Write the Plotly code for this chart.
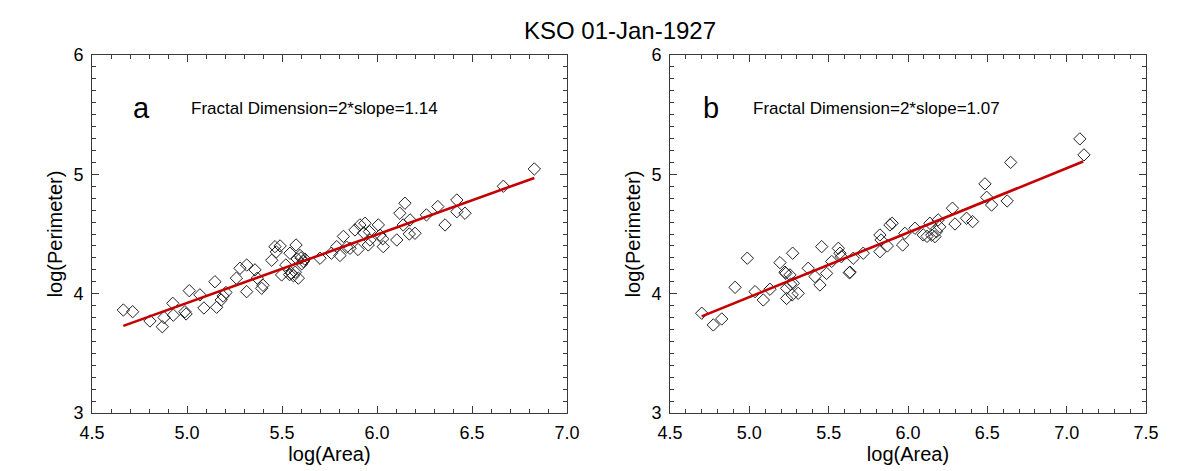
import plotly.graph_objects as go

# ---------------- data ----------------
a_log_area = [4.665, 4.714, 4.805, 4.870, 4.879, 4.925, 4.928, 4.989, 4.995, 5.012,
              5.068, 5.089, 5.147, 5.156, 5.180, 5.205, 5.190, 5.260, 5.279, 5.314,
              5.314, 5.358, 5.370, 5.393, 5.400, 5.446, 5.463, 5.490, 5.470, 5.498,
              5.520, 5.542, 5.574, 5.550, 5.560, 5.586, 5.595, 5.612, 5.580, 5.540,
              5.570, 5.600, 5.620, 5.604, 5.700, 5.760, 5.788, 5.805, 5.823, 5.840,
              5.858, 5.884, 5.900, 5.910, 5.937, 5.930, 5.960, 5.963, 5.954, 6.007,
              6.016, 6.030, 6.033, 6.104, 6.120, 6.147, 6.138, 6.174, 6.170, 6.200,
              6.260, 6.320, 6.358, 6.420, 6.420, 6.463, 6.665, 6.828]
a_log_perim = [3.863, 3.849, 3.771, 3.723, 3.800, 3.919, 3.820, 3.849, 3.830, 4.025,
               3.990, 3.880, 4.100, 3.886, 3.947, 4.010, 3.980, 4.130, 4.213, 4.240,
               4.017, 4.199, 4.130, 4.045, 4.070, 4.280, 4.394, 4.400, 4.350, 4.157,
               4.240, 4.339, 4.408, 4.170, 4.150, 4.130, 4.320, 4.270, 4.290, 4.160,
               4.180, 4.300, 4.290, 4.250, 4.297, 4.339, 4.394, 4.320, 4.480, 4.390,
               4.380, 4.534, 4.370, 4.576, 4.590, 4.510, 4.520, 4.450, 4.408, 4.576,
               4.490, 4.460, 4.394, 4.450, 4.674, 4.758, 4.576, 4.618, 4.500, 4.506,
               4.660, 4.730, 4.576, 4.785, 4.687, 4.674, 4.900, 5.045]
a_fit_x = [4.665, 6.828]
a_fit_y = [3.73, 4.97]

b_log_area = [4.700, 4.773, 4.826, 4.910, 4.987, 5.036, 5.088, 5.130, 5.193, 5.225,
              5.230, 5.273, 5.235, 5.235, 5.270, 5.260, 5.256, 5.277, 5.308, 5.371,
              5.414, 5.445, 5.456, 5.487, 5.519, 5.561, 5.571, 5.580, 5.630, 5.635,
              5.655, 5.718, 5.823, 5.823, 5.830, 5.886, 5.900, 5.870, 5.966, 5.980,
              6.044, 6.096, 6.120, 6.138, 6.150, 6.170, 6.190, 6.200, 6.180, 6.280,
              6.296, 6.369, 6.407, 6.485, 6.496, 6.527, 6.625, 6.647, 7.083, 7.109]
b_log_perim = [3.836, 3.738, 3.788, 4.053, 4.297, 4.017, 3.947, 4.037, 4.260, 4.180,
               4.170, 4.339, 4.045, 3.960, 3.990, 4.080, 4.157, 4.087, 4.003, 4.213,
               4.143, 4.073, 4.394, 4.170, 4.270, 4.380, 4.339, 4.310, 4.176, 4.180,
               4.297, 4.339, 4.492, 4.352, 4.450, 4.576, 4.590, 4.400, 4.408, 4.506,
               4.548, 4.492, 4.480, 4.590, 4.490, 4.478, 4.618, 4.560, 4.520, 4.716,
               4.584, 4.632, 4.604, 4.920, 4.808, 4.743, 4.777, 5.100, 5.297, 5.163]
b_fit_x = [4.700, 7.104]
b_fit_y = [3.81, 5.107]

title_text = "KSO 01-Jan-1927"
panel_labels = ["a", "b"]
fd_texts = ["Fractal Dimension=2*slope=1.14", "Fractal Dimension=2*slope=1.07"]
x_title = "log(Area)"
y_title = "log(Perimeter)"

# ---------------- figure ----------------
FONT = "Liberation Sans, Arial, Helvetica, sans-serif"
marker = dict(symbol="diamond-open", size=9.5, color="#222222", line=dict(width=1, color="#222222"))
line_style = dict(color="#c40000", width=2.6)

fig = go.Figure()
fig.add_trace(go.Scatter(x=a_log_area, y=a_log_perim, mode="markers", marker=marker,
                         xaxis="x", yaxis="y", showlegend=False))
fig.add_trace(go.Scatter(x=a_fit_x, y=a_fit_y, mode="lines", line=line_style,
                         xaxis="x", yaxis="y", showlegend=False))
fig.add_trace(go.Scatter(x=b_log_area, y=b_log_perim, mode="markers", marker=marker,
                         xaxis="x2", yaxis="y2", showlegend=False))
fig.add_trace(go.Scatter(x=b_fit_x, y=b_fit_y, mode="lines", line=line_style,
                         xaxis="x2", yaxis="y2", showlegend=False))

W, H = 1180, 471
L, R, T, B = 92, 34, 55, 58
pw = W - L - R


def axis_common():
    return dict(
        showline=True, linecolor="#3a3a3a", linewidth=1, mirror="ticks",
        ticks="inside", ticklen=7, tickwidth=1, tickcolor="#3a3a3a",
        showgrid=False, zeroline=False, automargin=False,
        tickfont=dict(family=FONT, size=18, color="black"),
        minor=dict(ticks="inside", ticklen=4, tickwidth=1, tickcolor="#3a3a3a", showgrid=False),
    )


xa = axis_common()
xa.update(range=[4.5, 7.0], dtick=0.5, tick0=4.5, tickformat=".1f",
          domain=[0, (567 - L) / pw], anchor="y", ticklabelstandoff=3,
          title=dict(text=x_title, font=dict(family=FONT, size=20, color="black"), standoff=4))
xa["minor"]["dtick"] = 0.1

xb = axis_common()
xb.update(range=[4.5, 7.5], dtick=0.5, tick0=4.5, tickformat=".1f",
          domain=[(670 - L) / pw, 1], anchor="y2", ticklabelstandoff=3,
          title=dict(text=x_title, font=dict(family=FONT, size=20, color="black"), standoff=4))
xb["minor"]["dtick"] = 0.1

ya = axis_common()
ya.update(range=[3, 6], dtick=1, tick0=3, domain=[0, 1], anchor="x", ticklabelstandoff=4,
          title=dict(text=y_title, font=dict(family=FONT, size=20, color="black"), standoff=5))
ya["minor"]["dtick"] = 0.1

yb = axis_common()
yb.update(range=[3, 6], dtick=1, tick0=3, domain=[0, 1], anchor="x2", ticklabelstandoff=4,
          title=dict(text=y_title, font=dict(family=FONT, size=20, color="black"), standoff=5))
yb["minor"]["dtick"] = 0.1

annotations = []
for i, (lab, txt) in enumerate(zip(panel_labels, fd_texts)):
    xr = "x" if i == 0 else "x2"
    yr = "y" if i == 0 else "y2"
    annotations.append(dict(text=lab, x=4.76, y=5.56, xref=xr, yref=yr, showarrow=False,
                            xanchor="center", yanchor="middle",
                            font=dict(family=FONT, size=29, color="black")))
    annotations.append(dict(text=txt, x=5.01, y=5.55, xref=xr, yref=yr, showarrow=False,
                            xanchor="left", yanchor="middle",
                            font=dict(family=FONT, size=17, color="black")))

fig.update_layout(
    width=W, height=H, template="none",
    margin=dict(l=L, r=R, t=T, b=B),
    paper_bgcolor="white", plot_bgcolor="white",
    xaxis=xa, xaxis2=xb, yaxis=ya, yaxis2=yb,
    annotations=annotations,
    title=dict(text=title_text, xref="container", yref="container",
               x=620 / W, y=1 - 31 / H, xanchor="center", yanchor="middle",
               font=dict(family=FONT, size=24, color="black")),
    showlegend=False,
)

fig.write_html("out.html")
